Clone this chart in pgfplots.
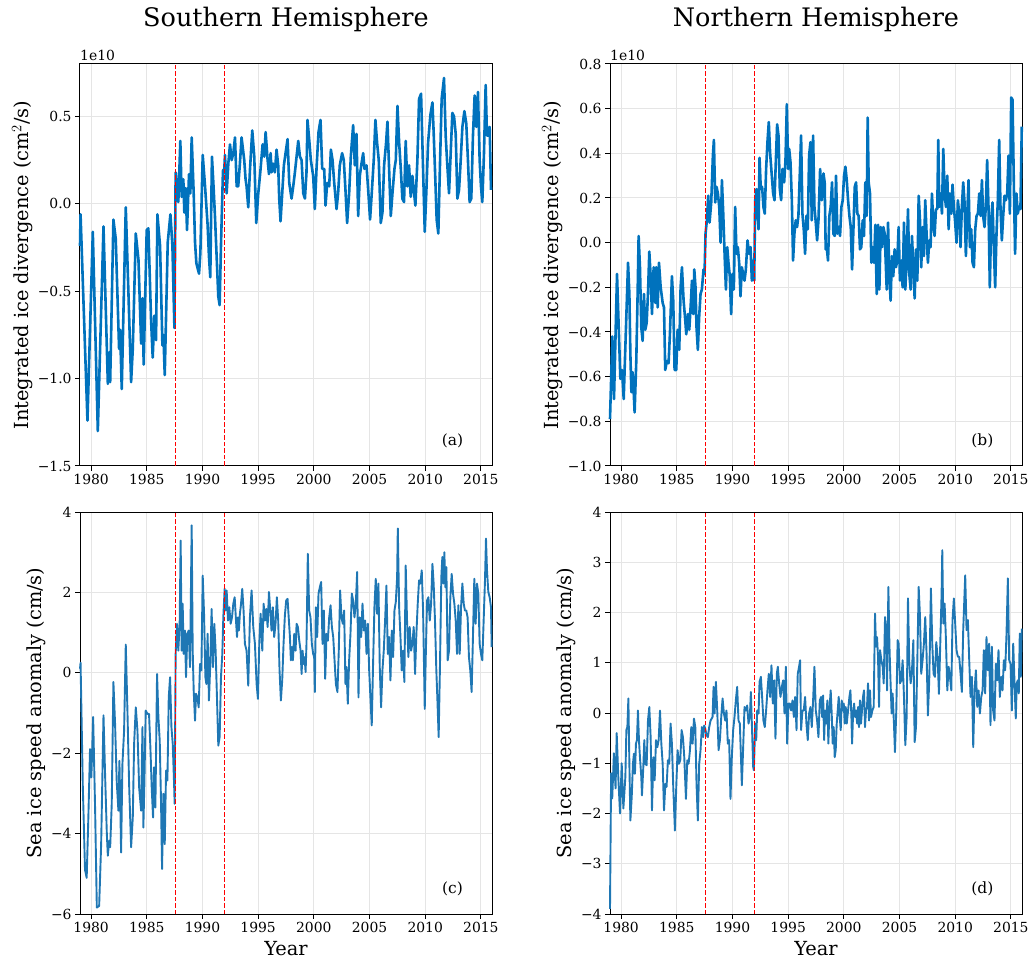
\documentclass[border=0pt]{standalone}
\usepackage{fontspec}
\setmainfont{DejaVu Serif}
\usepackage{pgfplots}
\usepackage{pgfplotstable}
\pgfplotsset{compat=1.18}
\definecolor{topblue}{RGB}{0,114,189}
\definecolor{botblue}{RGB}{31,119,180}
\definecolor{gridgray}{RGB}{229,229,229}

\pgfplotstableread{
x y
1979.00 -0.24
1979.05 -0.06
1979.67 -1.24
1980.15 -0.16
1980.60 -1.30
1981.11 -0.13
1981.50 -1.03
1981.62 -0.85
1981.71 -1.02
1982.00 -0.09
1982.21 -0.20
1982.51 -0.83
1982.60 -0.72
1982.75 -1.06
1983.11 -0.02
1983.35 -0.51
1983.59 -1.02
1983.74 -0.83
1984.01 -0.17
1984.25 -0.32
1984.49 -0.80
1984.61 -0.54
1984.72 -0.92
1984.99 -0.15
1985.14 -0.14
1985.38 -0.66
1985.53 -0.88
1985.68 -0.64
1985.83 -0.78
1985.95 -0.06
1986.19 -0.24
1986.40 -0.81
1986.49 -0.75
1986.61 -0.98
1986.88 -0.22
1987.12 -0.06
1987.30 -0.24
1987.48 -0.71
1987.59 0.18
1987.68 0.12
1987.83 0.01
1988.01 0.36
1988.13 0.04
1988.28 0.14
1988.37 -0.05
1988.49 0.09
1988.61 -0.15
1988.79 0.17
1988.91 0.06
1989.03 0.38
1989.21 0.06
1989.33 -0.22
1989.45 -0.34
1989.69 -0.40
1989.81 -0.28
1990.02 0.28
1990.23 0.10
1990.46 -0.12
1990.58 -0.30
1990.70 -0.42
1990.85 0.27
1991.00 0.09
1991.12 -0.07
1991.27 -0.30
1991.42 -0.53
1991.54 -0.58
1991.66 -0.24
1991.84 0.19
1991.96 0.20
1992.02 0.28
1992.17 0.06
1992.32 0.23
1992.47 0.34
1992.62 0.25
1992.77 0.29
1992.92 0.38
1993.07 0.10
1993.21 0.10
1993.36 0.23
1993.51 0.38
1993.75 0.25
1993.87 0.14
1993.96 0.10
1994.11 -0.02
1994.26 0.19
1994.47 0.42
1994.65 0.27
1994.83 -0.11
1995.01 0.06
1995.19 0.18
1995.40 0.34
1995.55 0.27
1995.67 0.41
1995.85 0.25
1995.97 0.17
1996.12 0.29
1996.20 0.18
1996.35 0.23
1996.50 0.18
1996.65 0.31
1996.80 0.22
1996.89 0.03
1997.01 -0.10
1997.16 0.06
1997.31 0.22
1997.46 0.29
1997.64 0.37
1997.79 0.12
1998.00 0.03
1998.15 0.10
1998.30 0.18
1998.45 0.27
1998.60 0.36
1998.75 0.27
1998.90 0.25
1999.05 0.06
1999.20 0.03
1999.34 0.18
1999.43 0.48
1999.58 0.37
1999.73 0.25
1999.94 0.16
2000.09 -0.03
2000.24 0.20
2000.42 0.41
2000.60 0.48
2000.75 0.20
2000.93 0.20
2001.05 -0.01
2001.20 0.12
2001.38 0.10
2001.53 0.31
2001.68 0.25
2001.83 0.12
2002.04 -0.03
2002.18 0.06
2002.33 0.22
2002.54 0.29
2002.69 0.25
2002.84 0.08
2002.99 -0.11
2003.17 0.06
2003.32 0.27
2003.53 0.45
2003.68 0.22
2003.83 0.40
2003.98 -0.07
2004.13 0.16
2004.28 0.23
2004.43 0.29
2004.55 0.20
2004.73 0.22
2004.88 0.08
2005.05 -0.09
2005.20 0.06
2005.38 0.25
2005.53 0.48
2005.68 0.35
2005.83 0.25
2006.01 -0.11
2006.16 -0.05
2006.31 0.22
2006.49 0.35
2006.61 0.47
2006.76 0.20
2006.91 -0.07
2007.06 0.06
2007.24 0.20
2007.36 0.25
2007.51 0.56
2007.66 0.35
2007.81 0.20
2007.95 0.03
2008.10 0.01
2008.25 0.36
2008.40 0.10
2008.55 0.22
2008.70 0.04
2008.85 0.16
2008.97 0.08
2009.12 -0.01
2009.30 0.25
2009.45 0.60
2009.63 0.63
2009.78 0.27
2009.96 -0.16
2010.11 0.08
2010.26 0.35
2010.47 0.51
2010.65 0.58
2010.76 0.41
2010.91 0.14
2011.03 -0.09
2011.18 -0.17
2011.33 0.23
2011.48 0.60
2011.69 0.72
2011.84 0.39
2011.96 0.25
2012.14 0.06
2012.29 0.29
2012.44 0.52
2012.59 0.50
2012.74 0.40
2012.89 0.03
2013.04 0.08
2013.19 0.25
2013.34 0.44
2013.52 0.53
2013.69 0.46
2013.84 0.25
2013.99 0.01
2014.14 0.03
2014.29 0.39
2014.44 0.62
2014.59 0.44
2014.74 0.64
2014.89 0.25
2015.01 0.10
2015.13 0.01
2015.28 0.29
2015.43 0.68
2015.55 0.39
2015.70 0.39
2015.79 0.44
2015.91 0.08
}\dataA

\pgfplotstableread{
x y
1979.00 -0.79
1979.21 -0.42
1979.36 -0.70
1979.63 -0.14
1979.93 -0.61
1980.08 -0.57
1980.23 -0.70
1980.62 -0.09
1980.74 -0.23
1980.83 -0.50
1980.92 -0.67
1981.03 -0.58
1981.12 -0.66
1981.21 -0.76
1981.36 -0.53
1981.48 -0.23
1981.57 0.03
1981.69 -0.11
1981.81 -0.38
1981.93 -0.44
1982.05 -0.23
1982.17 -0.39
1982.29 -0.36
1982.41 -0.23
1982.53 -0.04
1982.65 -0.15
1982.77 -0.32
1982.92 -0.11
1983.07 -0.27
1983.16 -0.11
1983.28 -0.29
1983.40 -0.09
1983.55 -0.20
1983.73 -0.27
1983.85 -0.29
1983.96 -0.57
1984.11 -0.53
1984.26 -0.54
1984.38 -0.41
1984.56 -0.15
1984.68 -0.26
1984.80 -0.57
1984.95 -0.57
1985.07 -0.39
1985.22 -0.48
1985.34 -0.20
1985.46 -0.11
1985.61 -0.26
1985.73 -0.33
1985.85 -0.41
1986.00 -0.32
1986.12 -0.39
1986.27 -0.26
1986.36 -0.17
1986.48 -0.32
1986.57 -0.12
1986.68 -0.20
1986.77 -0.38
1986.89 -0.48
1987.01 -0.33
1987.13 -0.23
1987.25 -0.21
1987.40 -0.12
1987.49 -0.14
1987.58 0.04
1987.70 0.10
1987.82 0.21
1987.94 0.09
1988.09 0.18
1988.24 0.39
1988.33 0.46
1988.45 0.18
1988.57 0.25
1988.69 0.22
1988.81 0.16
1988.93 0.00
1989.05 0.28
1989.17 0.13
1989.29 -0.05
1989.41 -0.21
1989.53 -0.02
1989.64 -0.09
1989.76 -0.15
1989.88 -0.32
1990.00 -0.14
1990.12 -0.21
1990.24 0.16
1990.36 -0.05
1990.48 -0.02
1990.60 -0.09
1990.72 -0.24
1990.84 -0.11
1990.96 -0.14
1991.08 -0.17
1991.20 -0.12
1991.35 0.01
1991.50 -0.05
1991.62 -0.02
1991.74 -0.17
1991.86 -0.08
1991.95 -0.17
1992.04 0.19
1992.16 0.24
1992.25 0.15
1992.34 0.06
1992.43 0.38
1992.54 0.24
1992.66 0.25
1992.78 0.16
1992.90 0.13
1993.02 0.33
1993.14 0.45
1993.26 0.54
1993.38 0.40
1993.53 0.30
1993.65 0.22
1993.77 0.19
1993.89 0.36
1994.01 0.53
1994.13 0.48
1994.25 0.24
1994.37 0.19
1994.49 0.33
1994.64 0.27
1994.76 0.37
1994.88 0.62
1995.00 0.33
1995.09 0.42
1995.21 0.36
1995.33 0.19
1995.44 -0.08
1995.56 0.04
1995.68 0.10
1995.80 0.07
1995.92 0.12
1996.04 0.30
1996.16 0.48
1996.28 0.13
1996.40 0.06
1996.52 -0.05
1996.64 0.12
1996.76 0.06
1996.88 0.39
1997.00 0.45
1997.12 0.10
1997.24 0.48
1997.36 0.16
1997.48 0.09
1997.60 0.01
1997.72 0.10
1997.87 0.33
1998.02 0.19
1998.17 0.31
1998.28 0.27
1998.37 -0.03
1998.46 -0.02
1998.58 -0.08
1998.70 0.12
1998.82 0.16
1998.94 0.27
1999.06 0.04
1999.18 0.03
1999.30 0.30
1999.42 0.04
1999.54 0.07
1999.66 0.03
1999.78 0.16
1999.90 0.19
2000.02 0.30
2000.14 0.34
2000.26 0.28
2000.38 0.19
2000.50 0.12
2000.62 0.07
2000.74 -0.12
2000.86 0.06
2000.98 0.25
2001.10 0.27
2001.21 0.13
2001.33 0.12
2001.45 -0.03
2001.57 -0.02
2001.69 0.10
2001.81 0.03
2001.93 0.27
2002.05 0.12
2002.14 0.56
2002.23 0.27
2002.35 0.22
2002.47 -0.09
2002.59 -0.02
2002.71 -0.09
2002.83 0.08
2002.95 -0.23
2003.07 0.08
2003.19 -0.21
2003.31 0.07
2003.43 -0.02
2003.55 0.07
2003.67 0.04
2003.85 -0.21
2003.97 0.09
2004.08 -0.14
2004.20 -0.26
2004.32 -0.06
2004.44 -0.15
2004.56 -0.03
2004.68 -0.11
2004.80 -0.08
2004.92 0.07
2005.04 -0.17
2005.16 -0.08
2005.28 -0.20
2005.40 0.09
2005.52 -0.21
2005.64 -0.08
2005.76 0.15
2005.88 -0.14
2006.00 -0.21
2006.12 0.03
2006.24 -0.11
2006.36 -0.25
2006.48 -0.03
2006.60 -0.17
2006.72 0.21
2006.84 0.10
2006.95 -0.11
2007.07 0.07
2007.19 -0.06
2007.31 0.19
2007.43 0.04
2007.55 -0.09
2007.67 0.01
2007.79 -0.02
2007.91 0.22
2008.03 0.09
2008.15 0.03
2008.27 0.15
2008.39 0.15
2008.48 0.46
2008.57 0.16
2008.69 0.22
2008.81 0.13
2008.93 0.42
2009.05 0.22
2009.17 0.16
2009.29 0.30
2009.41 0.06
2009.53 0.22
2009.65 0.13
2009.76 0.26
2009.88 0.16
2010.00 0.09
2010.12 0.00
2010.24 0.19
2010.36 0.13
2010.48 -0.02
2010.60 0.16
2010.72 0.27
2010.84 0.18
2010.96 -0.06
2011.08 0.12
2011.20 0.28
2011.32 -0.02
2011.44 0.06
2011.56 -0.09
2011.68 -0.11
2011.80 0.06
2011.92 0.12
2012.04 0.13
2012.16 0.22
2012.28 0.12
2012.40 0.28
2012.51 0.12
2012.63 0.07
2012.75 0.16
2012.87 0.37
2012.99 0.16
2013.11 -0.20
2013.23 0.10
2013.35 0.18
2013.47 -0.02
2013.59 -0.20
2013.71 0.04
2013.83 0.19
2013.95 0.46
2014.07 0.15
2014.19 0.01
2014.31 0.12
2014.43 0.21
2014.55 0.19
2014.67 0.22
2014.79 0.39
2014.91 0.13
2015.03 0.65
2015.15 0.64
2015.27 0.25
2015.38 -0.05
2015.50 0.22
2015.62 0.13
2015.74 0.16
2015.86 0.15
2015.98 0.52
}\dataB

\pgfplotstableread{
x y
1979.00 0.10
1979.05 0.25
1979.25 -2.80
1979.45 -4.90
1979.60 -5.10
1979.75 -3.60
1979.90 -1.90
1980.02 -2.60
1980.18 -1.10
1980.36 -3.43
1980.51 -5.84
1980.72 -5.80
1980.90 -4.26
1981.11 -1.06
1981.26 -2.60
1981.41 -4.01
1981.50 -4.55
1981.62 -4.18
1981.71 -4.34
1981.85 -3.26
1982.00 -0.23
1982.15 -1.27
1982.30 -2.72
1982.45 -3.43
1982.54 -2.19
1982.63 -3.43
1982.69 -4.47
1982.81 -2.27
1982.96 -1.44
1983.11 0.70
1983.26 -0.94
1983.41 -2.77
1983.59 -4.34
1983.74 -3.60
1983.86 -1.77
1984.01 -0.86
1984.16 -1.44
1984.31 -2.85
1984.49 -3.43
1984.61 -1.35
1984.69 -3.85
1984.78 -2.77
1984.90 -0.94
1985.05 -1.02
1985.20 -1.02
1985.32 -1.85
1985.44 -2.85
1985.56 -3.60
1985.65 -2.35
1985.77 -3.35
1985.92 -0.03
1986.04 -1.10
1986.16 -1.69
1986.28 -3.26
1986.37 -4.88
1986.49 -3.01
1986.61 -4.26
1986.73 -2.43
1986.85 -2.68
1986.97 -0.61
1987.09 -0.11
1987.21 -1.35
1987.33 -1.77
1987.45 -2.77
1987.50 -3.26
1987.59 0.47
1987.71 1.22
1987.83 0.55
1987.95 1.22
1988.04 3.29
1988.13 0.55
1988.22 1.72
1988.31 0.47
1988.43 1.05
1988.52 -0.11
1988.64 0.97
1988.76 1.05
1988.88 0.14
1989.03 3.67
1989.12 0.55
1989.21 -0.44
1989.33 -1.19
1989.42 -0.52
1989.54 -0.61
1989.66 -0.86
1989.78 0.22
1989.90 0.06
1990.02 2.42
1990.14 1.47
1990.26 -0.11
1990.35 -0.28
1990.46 0.97
1990.58 -0.69
1990.70 0.22
1990.82 1.59
1990.94 0.14
1991.06 1.22
1991.18 0.55
1991.30 -0.61
1991.42 -1.81
1991.54 -1.60
1991.66 -0.11
1991.78 0.47
1991.87 1.38
1991.99 2.09
1992.08 1.55
1992.17 2.05
1992.29 1.30
1992.41 1.63
1992.53 1.22
1992.65 1.38
1992.77 1.72
1992.89 1.88
1993.01 1.30
1993.10 0.89
1993.19 1.38
1993.27 1.05
1993.36 1.47
1993.45 1.68
1993.57 2.09
1993.69 1.55
1993.81 0.72
1993.96 0.55
1994.11 -0.32
1994.26 1.38
1994.41 2.05
1994.56 1.14
1994.71 0.72
1994.86 -0.28
1994.98 -0.65
1995.10 0.72
1995.22 1.47
1995.37 0.55
1995.49 1.72
1995.61 1.30
1995.73 1.59
1995.85 1.14
1995.97 2.01
1996.09 1.55
1996.20 1.05
1996.32 1.63
1996.44 0.89
1996.56 1.22
1996.68 1.88
1996.80 1.30
1996.92 0.06
1997.04 -0.69
1997.16 -0.19
1997.28 0.72
1997.40 1.43
1997.52 1.80
1997.64 1.84
1997.76 1.30
1997.85 0.90
1997.94 0.31
1998.03 0.64
1998.12 0.31
1998.24 0.97
1998.36 0.55
1998.45 1.22
1998.57 1.14
1998.69 0.80
1998.81 0.55
1998.90 -0.03
1998.99 0.55
1999.08 0.22
1999.17 0.39
1999.26 0.02
1999.34 0.72
1999.46 2.96
1999.58 1.55
1999.70 1.38
1999.82 0.72
1999.94 0.47
2000.03 0.39
2000.09 -0.48
2000.18 1.63
2000.30 0.89
2000.42 1.97
2000.54 2.13
2000.66 2.26
2000.78 0.72
2000.90 1.55
2001.02 -0.15
2001.14 0.97
2001.26 0.80
2001.38 1.38
2001.50 1.68
2001.62 1.14
2001.74 0.89
2001.86 0.31
2001.98 -0.28
2002.12 -0.48
2002.24 0.55
2002.36 2.05
2002.48 1.38
2002.60 1.22
2002.72 1.55
2002.84 -0.28
2002.93 0.14
2003.05 -0.77
2003.17 0.31
2003.29 0.97
2003.41 1.97
2003.53 1.80
2003.65 1.38
2003.77 1.72
2003.89 2.51
2004.01 -0.61
2004.13 1.38
2004.25 0.89
2004.37 1.72
2004.49 1.05
2004.61 1.30
2004.73 0.47
2004.85 1.22
2004.97 0.06
2005.08 -0.61
2005.20 -1.31
2005.32 0.22
2005.44 1.63
2005.56 2.34
2005.68 1.47
2005.80 2.22
2005.92 0.14
2006.04 -0.86
2006.16 0.06
2006.28 0.55
2006.40 1.30
2006.52 2.17
2006.64 0.47
2006.76 0.89
2006.88 -0.19
2007.00 1.05
2007.12 0.39
2007.24 1.55
2007.36 1.76
2007.48 2.38
2007.54 3.59
2007.66 1.63
2007.78 0.89
2007.89 0.06
2008.01 0.55
2008.13 -0.23
2008.25 2.67
2008.37 1.30
2008.49 0.39
2008.61 1.14
2008.73 0.55
2008.85 0.72
2008.97 1.14
2009.09 -0.03
2009.21 0.97
2009.33 1.72
2009.45 2.30
2009.57 2.22
2009.69 2.55
2009.81 1.55
2009.96 -0.90
2010.05 0.39
2010.17 1.80
2010.29 1.88
2010.41 1.30
2010.53 1.72
2010.65 2.71
2010.76 2.22
2010.88 1.30
2011.00 0.06
2011.09 -0.61
2011.21 -1.60
2011.33 0.22
2011.45 2.38
2011.54 2.88
2011.63 2.22
2011.72 3.00
2011.81 2.13
2011.90 2.63
2012.02 0.31
2012.14 0.55
2012.26 1.88
2012.38 2.46
2012.50 1.97
2012.62 1.72
2012.74 1.30
2012.86 0.47
2012.98 1.68
2013.10 0.47
2013.22 1.63
2013.34 2.22
2013.46 1.72
2013.57 1.55
2013.69 1.55
2013.81 1.38
2013.93 0.39
2014.05 0.06
2014.17 -0.48
2014.29 0.89
2014.41 2.34
2014.53 1.22
2014.65 2.22
2014.77 1.97
2014.89 0.72
2015.01 0.47
2015.13 0.31
2015.25 1.30
2015.37 2.30
2015.46 3.34
2015.55 2.55
2015.67 2.01
2015.79 1.88
2015.91 1.63
2015.97 0.64
}\dataC

\pgfplotstableread{
x y
1979.00 -3.90
1979.10 -1.20
1979.20 -1.70
1979.35 -0.80
1979.50 -1.50
1979.60 -0.40
1979.75 -1.30
1979.90 -2.00
1980.05 -1.00
1980.20 -1.90
1980.38 -1.27
1980.47 -0.34
1980.56 -0.28
1980.65 0.29
1980.74 -1.01
1980.83 -2.14
1980.95 -1.67
1981.06 -1.01
1981.15 -0.81
1981.24 -1.21
1981.33 -0.61
1981.42 -0.54
1981.51 0.05
1981.60 -0.54
1981.69 -0.88
1981.81 -1.27
1981.87 -1.64
1981.99 -1.08
1982.08 -0.54
1982.17 -1.01
1982.29 -1.04
1982.41 -0.15
1982.53 0.12
1982.65 -0.48
1982.77 -1.94
1982.89 -0.88
1983.01 -1.34
1983.13 -0.54
1983.25 -0.68
1983.37 -0.54
1983.49 0.05
1983.61 -0.61
1983.73 -1.01
1983.85 -1.94
1983.97 -1.41
1984.08 -1.47
1984.20 -0.94
1984.32 -1.01
1984.44 -0.21
1984.56 -0.61
1984.68 -1.47
1984.83 -2.34
1984.95 -1.47
1985.07 -0.74
1985.19 -1.01
1985.31 -0.94
1985.43 -0.34
1985.55 -0.48
1985.67 -0.88
1985.82 -1.71
1985.94 -0.94
1986.06 -1.01
1986.18 -0.74
1986.30 -0.28
1986.42 -0.61
1986.54 -0.11
1986.66 -0.28
1986.77 -1.41
1986.89 -2.14
1987.01 -1.01
1987.13 -0.74
1987.25 -0.28
1987.37 -0.48
1987.46 -0.25
1987.55 -0.31
1987.67 -0.44
1987.79 -0.48
1987.91 -0.28
1988.03 -0.15
1988.21 -0.08
1988.30 0.52
1988.39 -0.01
1988.51 0.62
1988.63 0.05
1988.75 -0.74
1988.87 -0.54
1988.99 -0.08
1989.11 0.29
1989.23 -0.01
1989.35 -0.15
1989.46 0.05
1989.58 -0.61
1989.70 -0.54
1989.82 -1.71
1989.94 -0.88
1990.06 -0.34
1990.18 -0.08
1990.30 0.25
1990.42 0.52
1990.54 -0.15
1990.66 -0.21
1990.78 -1.01
1990.84 -1.44
1990.96 -0.68
1991.08 0.12
1991.20 0.05
1991.32 0.15
1991.44 -0.21
1991.56 -0.08
1991.65 0.42
1991.74 -0.21
1991.86 -1.08
1991.92 -1.14
1992.04 -0.21
1992.13 -0.54
1992.22 0.05
1992.34 -0.01
1992.43 0.62
1992.55 0.72
1992.66 0.32
1992.78 -0.15
1992.90 -0.28
1993.02 0.05
1993.14 0.45
1993.26 0.78
1993.38 0.32
1993.50 0.95
1993.62 0.19
1993.74 0.65
1993.86 -0.51
1993.98 0.78
1994.07 0.92
1994.19 0.59
1994.31 0.32
1994.43 0.52
1994.55 0.65
1994.67 -0.01
1994.79 0.92
1994.91 -0.61
1995.03 0.19
1995.15 0.19
1995.27 0.05
1995.39 0.25
1995.51 -0.08
1995.63 0.32
1995.75 -0.34
1995.86 0.78
1995.98 0.92
1996.07 1.05
1996.16 -0.34
1996.28 0.05
1996.40 0.05
1996.52 0.32
1996.64 -0.21
1996.76 -0.54
1996.88 -0.01
1997.00 0.12
1997.12 -0.28
1997.24 0.25
1997.36 0.92
1997.48 0.05
1997.60 -0.15
1997.72 -0.48
1997.84 0.25
1997.96 0.32
1998.05 -0.08
1998.14 0.35
1998.23 -0.54
1998.31 0.05
1998.40 -0.21
1998.52 0.25
1998.61 -0.61
1998.70 0.05
1998.82 0.45
1998.91 -0.01
1999.00 -0.61
1999.09 -0.28
1999.18 -0.88
1999.27 -0.74
1999.36 -0.21
1999.45 0.05
1999.54 0.32
1999.63 -0.08
1999.72 -0.34
1999.81 0.25
1999.90 0.05
1999.99 0.19
2000.08 -0.21
2000.17 0.12
2000.26 -0.21
2000.38 0.05
2000.50 0.32
2000.59 0.45
2000.68 -0.08
2000.74 -0.61
2000.83 -0.01
2000.92 0.19
2001.01 -0.08
2001.10 0.05
2001.19 -0.21
2001.28 0.12
2001.36 -0.28
2001.45 0.25
2001.54 -0.21
2001.63 0.05
2001.72 0.32
2001.81 0.45
2001.90 -0.28
2001.99 0.05
2002.08 0.12
2002.17 0.59
2002.26 -0.15
2002.35 0.45
2002.44 -0.08
2002.56 0.05
2002.68 0.12
2002.80 1.98
2002.89 1.32
2002.98 1.51
2003.07 1.12
2003.16 0.12
2003.25 1.25
2003.37 1.05
2003.49 0.92
2003.58 0.59
2003.70 1.91
2003.79 1.65
2003.88 0.45
2004.00 2.51
2004.09 1.38
2004.17 0.78
2004.29 -0.01
2004.38 0.39
2004.50 -0.21
2004.59 -0.78
2004.71 0.05
2004.83 1.45
2004.92 1.38
2005.04 0.59
2005.16 0.65
2005.28 1.05
2005.40 0.32
2005.52 -0.64
2005.64 -0.08
2005.76 2.28
2005.88 0.98
2006.00 0.59
2006.12 0.85
2006.24 1.45
2006.36 -0.58
2006.48 -0.28
2006.60 1.05
2006.72 2.51
2006.84 1.91
2006.95 0.78
2007.07 1.05
2007.19 1.38
2007.31 1.91
2007.43 1.18
2007.55 -0.05
2007.67 0.65
2007.82 2.48
2007.94 1.38
2008.06 0.78
2008.18 0.72
2008.30 1.41
2008.42 1.12
2008.54 0.38
2008.66 1.38
2008.78 2.38
2008.84 3.24
2008.93 1.78
2009.05 2.18
2009.17 1.45
2009.29 0.45
2009.41 0.92
2009.53 0.72
2009.65 0.45
2009.76 1.85
2009.88 2.28
2010.00 1.78
2010.12 1.25
2010.24 1.12
2010.36 1.12
2010.48 0.78
2010.60 0.42
2010.72 1.65
2010.84 2.38
2010.90 2.74
2011.02 1.65
2011.14 1.85
2011.26 1.05
2011.38 0.32
2011.50 0.72
2011.62 -0.68
2011.74 0.45
2011.86 0.85
2011.98 0.12
2012.10 0.45
2012.22 -0.01
2012.34 0.32
2012.46 0.45
2012.57 1.25
2012.69 0.39
2012.81 1.51
2012.93 0.85
2013.05 1.38
2013.17 -0.24
2013.29 1.32
2013.41 0.05
2013.53 -0.15
2013.65 0.98
2013.77 0.65
2013.89 1.25
2014.01 0.32
2014.13 0.72
2014.25 0.45
2014.37 1.05
2014.49 0.85
2014.61 1.58
2014.73 2.68
2014.85 1.05
2014.97 0.98
2015.09 0.05
2015.21 1.38
2015.33 0.59
2015.44 -0.11
2015.53 0.59
2015.62 0.65
2015.71 0.39
2015.80 1.58
2015.89 0.72
2015.98 1.68
}\dataD

\pgfplotsset{
  panel/.style={
    scale only axis, width=412pt, height=402pt,
    xmin=1979, xmax=2016, clip=false,
    xtick={1980,1985,1990,1995,2000,2005,2010,2015},
    xticklabels={1980,1985,1990,1995,2000,2005,2010,2015},
    grid=major,
    major grid style={draw=gridgray, line width=1pt},
    axis line style={line width=1pt, black},
    every tick/.style={line width=1pt, black},
    tick align=outside, tick pos=left,
    major tick length=4.9pt,
    tick label style={font=\fontsize{13.9}{16}\selectfont, black},
    ylabel style={at={(axis description cs:-0.139,0.5)}, anchor=center, font=\fontsize{19.4}{22}\selectfont},
    xlabel style={at={(axis description cs:0.5,0)}, anchor=base, yshift=-41.5pt, font=\fontsize{19.4}{22}\selectfont},
    title style={at={(axis description cs:0.5,1)}, anchor=base, yshift=31pt, font=\fontsize{25.5}{30}\selectfont},
  },
  topline/.style={color=topblue, line width=2.6pt, line join=round},
  botline/.style={color=botblue, line width=1.9pt, line join=round},
  redline/.style={color=red, line width=1.2pt, dash pattern=on 4.5pt off 2pt},
}
\newcommand{\plab}[1]{\node[anchor=center, font=\fontsize{15.5}{18}\selectfont] at (axis description cs:0.904,0.063) {#1};}

\begin{document}
\begin{tikzpicture}
\path[use as bounding box] (0,0) rectangle (1031pt,962pt);

% (a)
\begin{axis}[panel, at={(80pt,496pt)}, anchor=south west,
  ymin=-1.5, ymax=0.8,
  ytick={-1.5,-1,-0.5,0,0.5}, yticklabels={−1.5,−1.0,−0.5,0.0,0.5},
  ylabel={Integrated ice divergence (cm$^2$/s)},
  title={Southern Hemisphere}]
\addplot[topline] table[x=x,y=y] {\dataA};
\addplot[redline] coordinates {(1987.56,-1.5) (1987.56,0.8)};
\addplot[redline] coordinates {(1991.98,-1.5) (1991.98,0.8)};
\node[anchor=base west, inner sep=0pt, yshift=3pt, font=\fontsize{13.9}{16}\selectfont] at (axis description cs:0,1) {1e10};
\plab{(a)}
\end{axis}

% (b)
\begin{axis}[panel, at={(610pt,496pt)}, anchor=south west,
  ymin=-1.0, ymax=0.8,
  ytick={-1,-0.8,-0.6,-0.4,-0.2,0,0.2,0.4,0.6,0.8},
  yticklabels={−1.0,−0.8,−0.6,−0.4,−0.2,0.0,0.2,0.4,0.6,0.8},
  ylabel={Integrated ice divergence (cm$^2$/s)},
  title={Northern Hemisphere}]
\addplot[topline] table[x=x,y=y] {\dataB};
\addplot[redline] coordinates {(1987.56,-1.0) (1987.56,0.8)};
\addplot[redline] coordinates {(1991.98,-1.0) (1991.98,0.8)};
\node[anchor=base west, inner sep=0pt, yshift=3pt, font=\fontsize{13.9}{16}\selectfont] at (axis description cs:0,1) {1e10};
\plab{(b)}
\end{axis}

% (c)
\begin{axis}[panel, at={(80pt,48pt)}, anchor=south west,
  ymin=-6, ymax=4,
  ytick={-6,-4,-2,0,2,4}, yticklabels={−6,−4,−2,0,2,4},
  ylabel style={at={(axis description cs:-0.107,0.5)}},
  ylabel={Sea ice speed anomaly (cm/s)},
  xlabel={Year}]
\addplot[botline] table[x=x,y=y] {\dataC};
\addplot[redline] coordinates {(1987.56,-6) (1987.56,4)};
\addplot[redline] coordinates {(1991.98,-6) (1991.98,4)};
\plab{(c)}
\end{axis}

% (d)
\begin{axis}[panel, at={(610pt,48pt)}, anchor=south west,
  ymin=-4, ymax=4,
  ytick={-4,-3,-2,-1,0,1,2,3,4}, yticklabels={−4,−3,−2,−1,0,1,2,3,4},
  ylabel style={at={(axis description cs:-0.106,0.5)}},
  ylabel={Sea ice speed anomaly (cm/s)},
  xlabel={Year}]
\addplot[botline] table[x=x,y=y] {\dataD};
\addplot[redline] coordinates {(1987.56,-4) (1987.56,4)};
\addplot[redline] coordinates {(1991.98,-4) (1991.98,4)};
\plab{(d)}
\end{axis}
\end{tikzpicture}
\end{document}
